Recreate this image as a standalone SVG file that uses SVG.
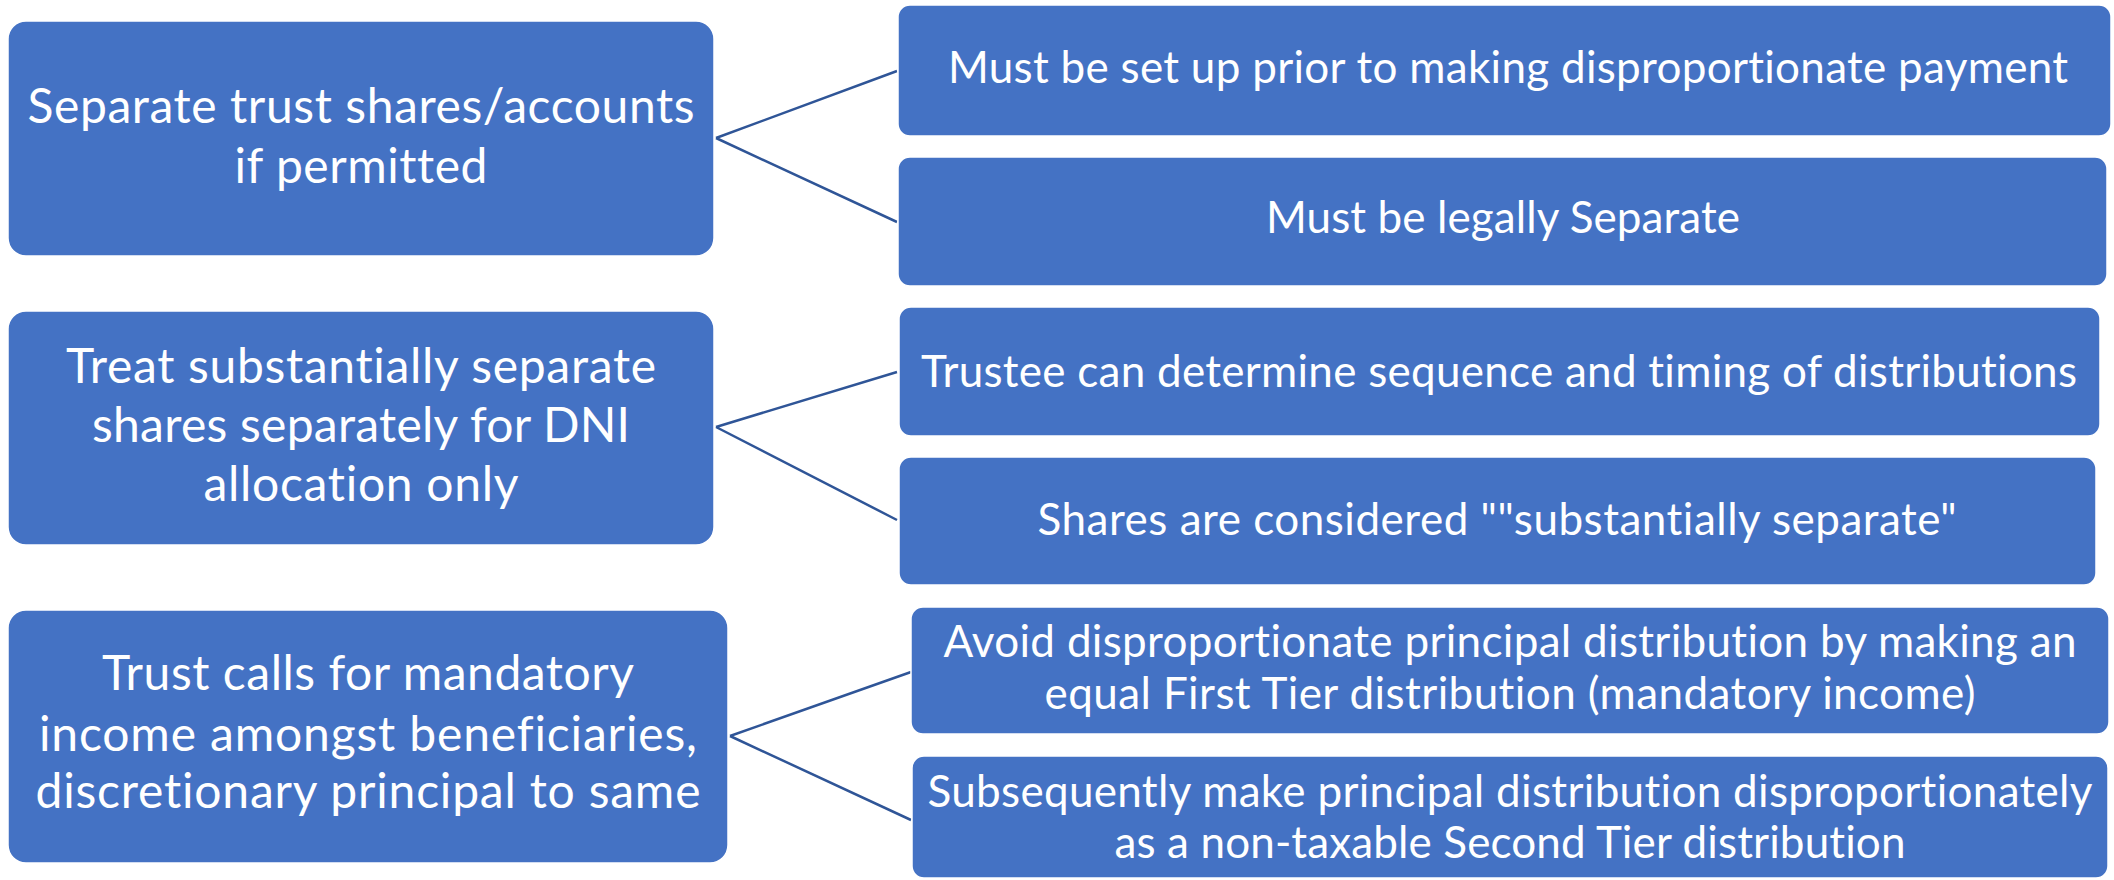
<svg xmlns="http://www.w3.org/2000/svg" width="2114" height="880" viewBox="0 0 2114 880">
  <style>
    .box { fill: #4472C4; stroke: #FFFFFF; stroke-width: 1.5; }
    .lbl { fill: #FFFFFF; font-family: Lato, "Open Sans", "Liberation Sans", sans-serif; text-anchor: middle; font-variant-ligatures: none; }
    .big { font-size: 48px; }
    .sm { font-size: 44px; }
    .conn { stroke: #2F5597; stroke-width: 2.5; fill: none; }
  </style>
  <rect width="2114" height="880" fill="#FFFFFF"/>

  <!-- connectors -->
  <g id="connectors">
    <path class="conn" d="M716,138 L897,71 M716,138 L897,222"/>
    <path class="conn" d="M716,427 L897,372 M716,427 L897,520"/>
    <path class="conn" d="M730,736 L911,672 M730,736 L911,820"/>
  </g>

  <!-- left column -->
  <g id="node-separate-accounts">
    <rect class="box" x="8" y="21" width="706" height="235" rx="18"/>
    <text class="lbl big" x="361" y="123" textLength="667">Separate trust shares/accounts</text>
    <text class="lbl big" x="361" y="183" textLength="253">if permitted</text>
  </g>
  <g id="node-substantially-separate">
    <rect class="box" x="8" y="311" width="706" height="234" rx="18"/>
    <text class="lbl big" x="361" y="383" textLength="590">Treat substantially separate</text>
    <text class="lbl big" x="361" y="442" textLength="538">shares separately for DNI</text>
    <text class="lbl big" x="361" y="501" textLength="315">allocation only</text>
  </g>
  <g id="node-mandatory-income">
    <rect class="box" x="8" y="610" width="720" height="253" rx="18"/>
    <text class="lbl big" x="368" y="690" textLength="532">Trust calls for mandatory</text>
    <text class="lbl big" x="368" y="751" textLength="658">income amongst beneficiaries,</text>
    <text class="lbl big" x="368" y="808" textLength="665">discretionary principal to same</text>
  </g>

  <!-- right column -->
  <g id="node-set-up-prior">
    <rect class="box" x="898" y="5" width="1213" height="131" rx="12"/>
    <text class="lbl sm" x="1508" y="83" textLength="1120">Must be set up prior to making disproportionate payment</text>
  </g>
  <g id="node-legally-separate">
    <rect class="box" x="898" y="157" width="1209" height="129" rx="12"/>
    <text class="lbl sm" x="1503" y="233" textLength="474">Must be legally Separate</text>
  </g>
  <g id="node-sequence-timing">
    <rect class="box" x="899" y="307" width="1201" height="129" rx="12"/>
    <text class="lbl sm" x="1499" y="387" textLength="1156">Trustee can determine sequence and timing of distributions</text>
  </g>
  <g id="node-considered-separate">
    <rect class="box" x="899" y="457" width="1197" height="128" rx="12"/>
    <text class="lbl sm" x="1497" y="535" textLength="919">Shares are considered ""substantially separate"</text>
  </g>
  <g id="node-first-tier">
    <rect class="box" x="911" y="607" width="1198" height="127" rx="12"/>
    <text class="lbl sm" x="1510" y="657" textLength="1133">Avoid disproportionate principal distribution by making an</text>
    <text class="lbl sm" x="1510" y="709" textLength="931">equal First Tier distribution (mandatory income)</text>
  </g>
  <g id="node-second-tier">
    <rect class="box" x="912" y="756" width="1196" height="122" rx="12"/>
    <text class="lbl sm" x="1510" y="807" textLength="1165">Subsequently make principal distribution disproportionately</text>
    <text class="lbl sm" x="1510" y="858" textLength="791">as a non-taxable Second Tier distribution</text>
  </g>
</svg>
